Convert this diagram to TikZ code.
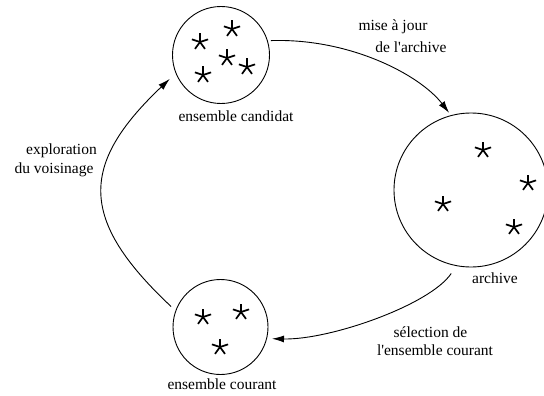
\documentclass[tikz,border=0pt]{standalone}
\usepackage{fontspec}
\setmainfont{Liberation Serif}[Ligatures=TeXOff]
\usetikzlibrary{arrows.meta}
\tikzset{
  setc/.style={draw, circle, line width=0.9pt, inner sep=0pt},
  lbl/.style={font=\fontsize{15.5}{18}\selectfont, inner sep=0pt},
  conn/.style={line width=0.9pt, -{Latex[length=12pt,width=7pt]}},
  astk/.pic={\foreach \a in {90,162,234,306,18} \draw[line width=1.7pt] (0,0) -- (\a:8.5pt);}
}
\begin{document}
\begin{tikzpicture}[x=1pt,y=-1pt]
\useasboundingbox (0,0) rectangle (544,396);
% sets
\node[setc, minimum size=97pt] (cand) at (221,55) {};
\node[setc, minimum size=154pt] (arch) at (471,190) {};
\node[setc, minimum size=95pt] (cour) at (220.5,327) {};
% labels of sets
\node[lbl] (lcand) at (236,116) {ensemble candidat};
\node[lbl] (larch) at (495,278) {archive};
\node[lbl] (lcour) at (222,384) {ensemble courant};
% stars
\foreach \p in {(200,42),(232,29),(227,58),(247,67),(203,75),
                (483,150),(443,204),(528,183),(514,227),
                (203,317),(241,312),(220,347)}
  \pic at \p {astk};
% connectors
\draw[conn, shorten <=3pt, shorten >=3pt] (cand.17) .. controls (350,38) and (420,75) .. (arch.105);
\draw[conn, shorten <=9pt, shorten >=5pt] (arch.259) .. controls (430,305) and (330,340) .. (cour.346);
\draw[conn, shorten <=6pt, shorten >=8pt] (cour.160) .. controls (79,220) and (79,165) .. (cand.202);
% connector labels
\node[lbl] (m1) at (393,27) {mise à jour};
\node[lbl] (m2) at (411,47) {de l'archive};
\node[lbl] (e1) at (61.5,151) {exploration};
\node[lbl] (e2) at (54,170) {du voisinage};
\node[lbl] (s1) at (430.5,332) {sélection de};
\node[lbl] (s2) at (435,350) {l'ensemble courant};
\end{tikzpicture}
\end{document}
